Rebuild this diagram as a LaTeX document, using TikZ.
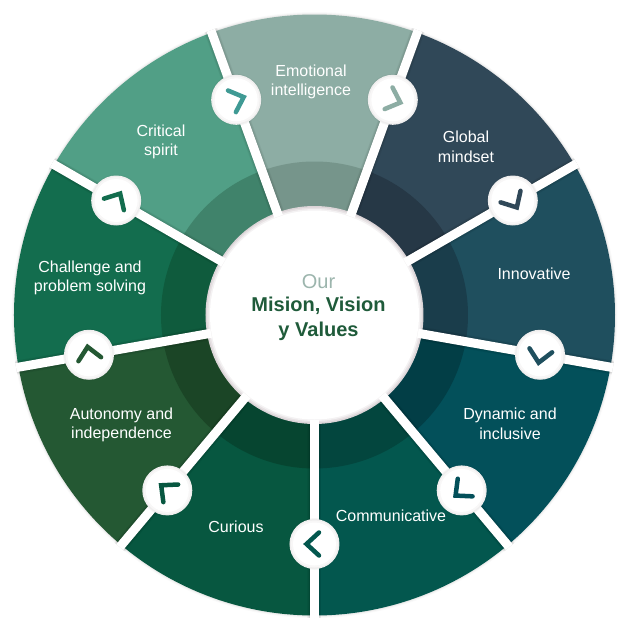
\documentclass[tikz,border=0pt]{standalone}
\usepackage{fontspec}
\setmainfont{Liberation Sans}
\definecolor{cEmo}{HTML}{8DADA4}\definecolor{iEmo}{HTML}{76958B}
\definecolor{cGlo}{HTML}{304858}\definecolor{iGlo}{HTML}{263846}
\definecolor{cInn}{HTML}{1F4F5E}\definecolor{iInn}{HTML}{1A3D4B}
\definecolor{cDyn}{HTML}{03505A}\definecolor{iDyn}{HTML}{023E46}
\definecolor{cCom}{HTML}{03574E}\definecolor{iCom}{HTML}{03463E}
\definecolor{cCur}{HTML}{075740}\definecolor{iCur}{HTML}{064530}
\definecolor{cAut}{HTML}{245833}\definecolor{iAut}{HTML}{1B4526}
\definecolor{cCha}{HTML}{136D4E}\definecolor{iCha}{HTML}{0F5B3D}
\definecolor{cCri}{HTML}{519F86}\definecolor{iCri}{HTML}{40836B}
\definecolor{chevCri}{HTML}{3F9A94}
\definecolor{ourc}{HTML}{9CB5AD}
\definecolor{hubc}{HTML}{1F5B3A}
\definecolor{ringa}{HTML}{DCD5D8}\definecolor{ringb}{HTML}{E8E3E5}\definecolor{ringc}{HTML}{F4F2F3}
\definecolor{knoba}{HTML}{EFEEEE}\definecolor{knobb}{HTML}{F8F7F7}
\tikzset{
  label/.style={text=white,align=center,inner sep=0pt,font=\fontsize{16}{19.5}\selectfont},
  spokeshade/.style={draw=black,line cap=butt,opacity=0.04},
  spokewhite/.style={draw=white,line width=9pt,line cap=butt},
  knob/.style={circle,fill=#1,draw=none,inner sep=0pt},
  chev/.style={line width=4.5pt,line cap=round,line join=miter,draw=#1},
}
\begin{document}
\begin{tikzpicture}[x=1pt,y=1pt]
\useasboundingbox (-314.5,-318) rectangle (316.5,315);
% soft outer rim
\foreach \r/\o in {303/0.02,302/0.03,301.2/0.04}{\fill[black,opacity=\o] (0,0) circle[radius=\r pt];}
% sectors
\foreach \a/\c in {70/Emo,30/Glo,-10/Inn,-50/Dyn,-90/Com,-130/Cur,-170/Aut,150/Cha,110/Cri}{
  \pgfmathsetmacro{\b}{\a+40}
  \fill[c\c] (0,0) -- (\a:300.5pt) arc[start angle=\a,end angle=\b,radius=300.5pt] -- cycle;
  \fill[i\c] (0,0) -- (\a:153.5pt) arc[start angle=\a,end angle=\b,radius=153.5pt] -- cycle;
}
% spoke ends
\foreach \a in {70,30,-10,-50,-90,-130,-170,150,110}{
  \coordinate (in\a) at (\a:105pt);
  \coordinate (out\a) at (\a:303pt);
  \foreach \w in {14,12.5,11,10}{\draw[spokeshade,line width=\w pt] (in\a) -- (out\a);}
}
% hub ring
\fill[ringa] (0,0) circle[radius=109pt];
\fill[ringb] (0,0) circle[radius=107.5pt];
\fill[ringc] (0,0) circle[radius=106pt];
\foreach \a in {70,30,-10,-50,-90,-130,-170,150,110}{
  \draw[spokewhite] (in\a) -- (out\a);
}
\node[knob=white,minimum size=209pt] (hub) at (0,0) {};
% knobs and chevrons
\foreach \a/\c/\n in {70/cEmo/k1,30/cGlo/k2,-10/cInn/k3,-50/cDyn/k4,-90/cCom/k5,-130/cCur/k6,-170/cAut/k7,150/cCha/k8,110/chevCri/k9}{
  \pgfmathsetmacro{\t}{\a-90}
  \fill[black,opacity=0.03] (\a:229pt) circle[radius=26pt];
  \node[knob=knoba,minimum size=50pt] (\n o) at (\a:229pt) {};
  \node[knob=knobb,minimum size=47pt] at (\a:229pt) {};
  \node[knob=white,minimum size=43pt] (\n) at (\a:229pt) {};
  \draw[chev=\c,shift={(\a:229pt)},rotate=\t] (-4.5,11.5) -- (8,0) -- (-4.5,-11.5);
}
% labels
\node[label] (emo) at (-3.5,233) {Emotional\\intelligence};
\node[label] (cri) at (-153.5,173) {Critical\\spirit};
\node[label] (glo) at (151.5,168) {Global\\mindset};
\node[label] (inn) at (219.5,41) {Innovative};
\node[label] (dyn) at (195.5,-109) {Dynamic and\\inclusive};
\node[label] (com) at (76.5,-201) {Communicative};
\node[label] (cur) at (-78.5,-212) {Curious};
\node[label] (aut) at (-193,-110) {Autonomy and\\independence};
\node[label] (cha) at (-224.5,37) {Challenge and\\problem solving};
\node[inner sep=0pt,text=ourc,font=\fontsize{20}{24}\selectfont] (our) at (4,33) {Our};
\node[inner sep=0pt,text=hubc,align=center,font=\bfseries\fontsize{20}{25}\selectfont] (mv) at (4,-4) {Mision, Vision\\y Values};
\end{tikzpicture}
\end{document}
